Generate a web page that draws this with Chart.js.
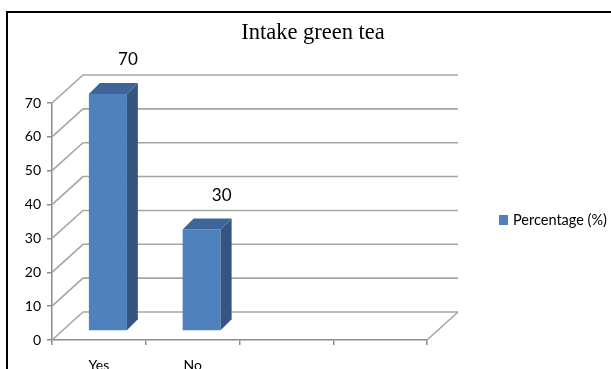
<!DOCTYPE html>
<html>
<head>
<meta charset="utf-8">
<script src="https://cdn.jsdelivr.net/npm/chart.js@4"></script>
<style>
  html, body { margin: 0; padding: 0; background: #fff; }
  #wrap { width: 611px; height: 369px; position: relative; }
</style>
</head>
<body>
<div id="wrap"><canvas id="c" width="611" height="369"></canvas></div>
<script>
// Survey answers: does the respondent drink green tea?
const categories = ['Yes', 'No', '', ''];
const percentages = [70, 30, null, null];
const seriesLabel = 'Percentage (%)';
const yTicks = [0, 10, 20, 30, 40, 50, 60, 70];

const FRONT = '#4F81BD';
const SIDE = '#34557F';
const TOP = '#3D659A';
const GRID = '#a6a6a6';
const AXIS = '#8c8c8c';

// Pseudo-3D geometry: depth of the back wall and of each bar
const DX = 31, DY = -28;   // back wall offset from the front axis plane
const OX = 9, OY = -9;     // bar front-face offset
const BD = 11;             // bar depth

const depth3d = {
  id: 'depth3d',
  beforeDraw(chart) {
    const ctx = chart.ctx;
    ctx.save();
    ctx.fillStyle = '#fff';
    ctx.fillRect(0, 0, chart.width, chart.height);
    // outer frame (top and left edges)
    ctx.strokeStyle = '#000';
    ctx.lineWidth = 2;
    ctx.beginPath();
    ctx.moveTo(7, chart.height);
    ctx.lineTo(7, 12);
    ctx.lineTo(chart.width, 12);
    ctx.stroke();
    ctx.restore();
  },
  beforeDatasetsDraw(chart) {
    const { ctx, chartArea: a, scales: { y } } = chart;
    ctx.save();
    ctx.strokeStyle = GRID;
    ctx.lineWidth = 1.6;
    ctx.beginPath();
    yTicks.forEach(v => {
      const py = y.getPixelForValue(v);
      ctx.moveTo(a.left, py);
      ctx.lineTo(a.left + DX, py + DY);
      ctx.lineTo(a.right + DX, py + DY);
    });
    // right edge of the floor
    ctx.moveTo(a.right, a.bottom);
    ctx.lineTo(a.right + DX, a.bottom + DY);
    ctx.stroke();
    ctx.restore();
    // bar front faces are drawn slightly recessed into the floor
    ctx.save();
    ctx.translate(OX, OY);
  },
  afterDatasetsDraw(chart) {
    const ctx = chart.ctx;
    ctx.restore();
    const meta = chart.getDatasetMeta(0);
    const data = chart.data.datasets[0].data;
    meta.data.forEach((el, i) => {
      if (data[i] == null) return;
      const p = el.getProps(['x', 'y', 'base', 'width'], true);
      const l = p.x - p.width / 2 + OX;
      const r = p.x + p.width / 2 + OX;
      const t = p.y + OY;
      const b = p.base + OY;
      ctx.save();
      // side face
      ctx.fillStyle = SIDE;
      ctx.beginPath();
      ctx.moveTo(r, t);
      ctx.lineTo(r + BD, t - BD);
      ctx.lineTo(r + BD, b - BD);
      ctx.lineTo(r, b);
      ctx.closePath();
      ctx.fill();
      // top face
      ctx.fillStyle = TOP;
      ctx.beginPath();
      ctx.moveTo(l, t);
      ctx.lineTo(l + BD, t - BD);
      ctx.lineTo(r + BD, t - BD);
      ctx.lineTo(r, t);
      ctx.closePath();
      ctx.fill();
      // value label
      ctx.fillStyle = '#000';
      ctx.font = '17px Lato';
      ctx.textAlign = 'center';
      ctx.textBaseline = 'middle';
      ctx.fillText(String(data[i]), p.x + OX + 20, t - 34);
      ctx.restore();
    });
  },
  afterDraw(chart) {
    // legend
    const ctx = chart.ctx;
    const ds = chart.data.datasets[0];
    ctx.save();
    ctx.fillStyle = ds.backgroundColor;
    ctx.fillRect(499, 215, 9, 10);
    ctx.fillStyle = '#000';
    ctx.font = '14.5px Lato';
    ctx.textAlign = 'left';
    ctx.textBaseline = 'middle';
    ctx.fillText(ds.label, 513, 220);
    ctx.restore();
  }
};

new Chart(document.getElementById('c'), {
  type: 'bar',
  plugins: [depth3d],
  data: {
    labels: categories,
    datasets: [{
      label: seriesLabel,
      data: percentages,
      backgroundColor: FRONT,
      borderWidth: 0,
      barPercentage: 0.405,
      categoryPercentage: 1,
      clip: false
    }]
  },
  options: {
    responsive: false,
    animation: false,
    layout: { padding: { left: 15, right: 0, top: 0, bottom: 0 } },
    plugins: {
      legend: { display: false },
      tooltip: { enabled: false },
      title: {
        display: true,
        text: 'Intake green tea',
        color: '#000',
        font: { family: 'Liberation Serif', size: 22.5, weight: 'normal', lineHeight: 1.2 },
        padding: { top: 20, bottom: 56 }
      }
    },
    scales: {
      x: {
        grid: { offset: true, drawOnChartArea: false, tickLength: 5, color: AXIS, lineWidth: 1.5 },
        border: { display: true, color: AXIS, width: 1.5 },
        ticks: { color: '#000', font: { family: 'Lato', size: 14 }, padding: 12, maxRotation: 0 },
        afterFit(s) { s.height = 29; }
      },
      y: {
        min: 0,
        max: 70,
        afterBuildTicks(s) { s.ticks = yTicks.map(v => ({ value: v })); },
        grid: { drawOnChartArea: false, tickLength: 5, color: AXIS, lineWidth: 1.5 },
        border: { display: true, color: AXIS, width: 1.5 },
        ticks: { color: '#000', font: { family: 'Lato', size: 14 }, padding: 6 },
        afterFit(s) { s.width = 37; }
      },
      // empty strip on the right that holds the legend
      legendSpace: {
        type: 'linear',
        position: 'right',
        display: true,
        grid: { display: false },
        border: { display: false },
        ticks: { display: false },
        afterFit(s) { s.width = 184; }
      }
    }
  }
});
</script>
</body>
</html>
